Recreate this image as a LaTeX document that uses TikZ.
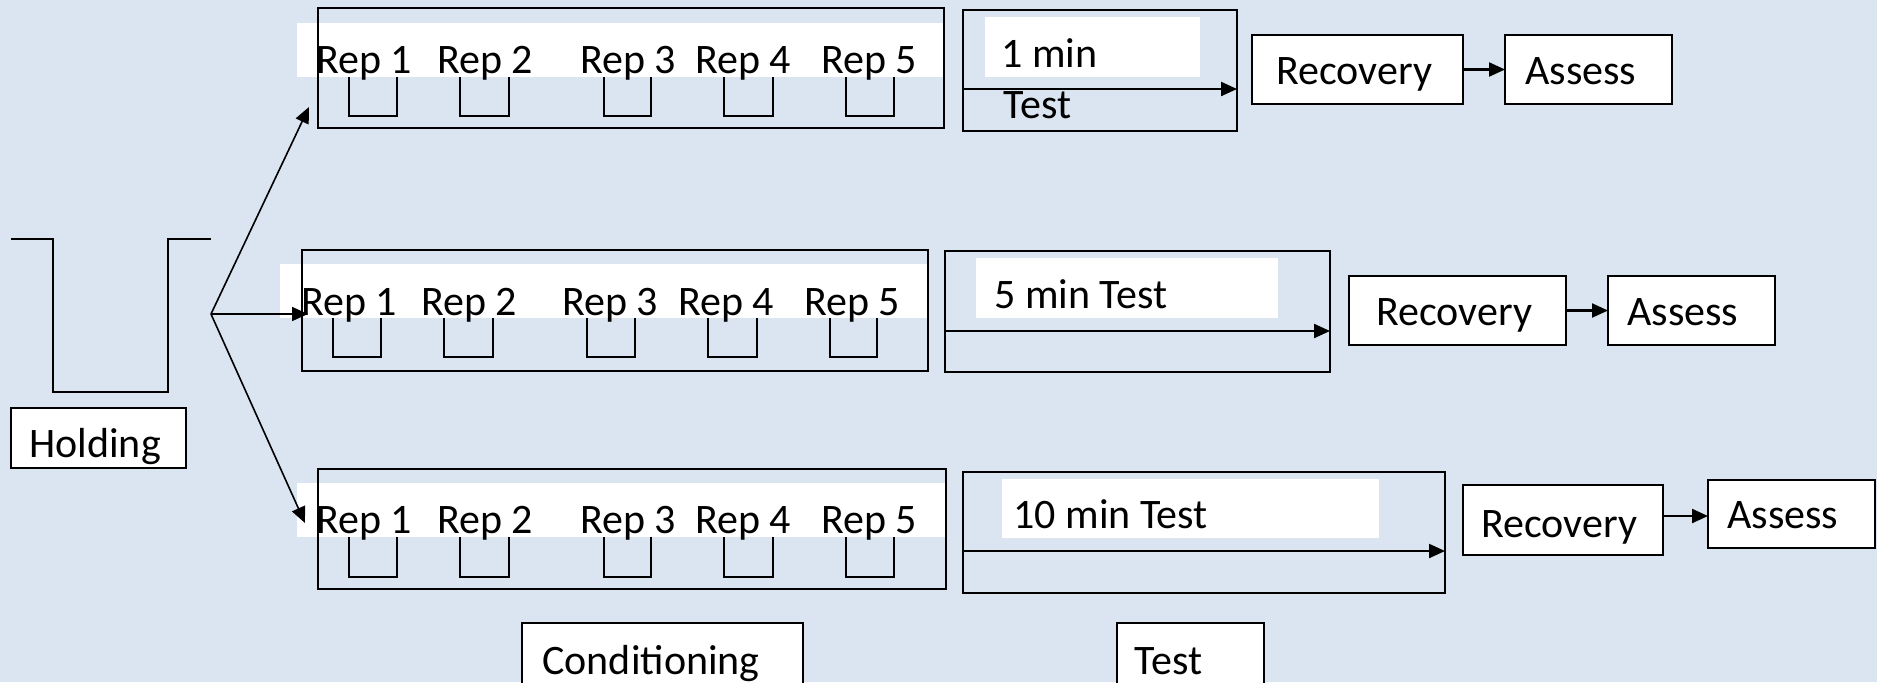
\documentclass[tikz,border=0pt]{standalone}
\usepackage{fontspec}
\setmainfont{Carlito}
\usetikzlibrary{arrows.meta}
\definecolor{bgblue}{RGB}{219,229,241}
\tikzset{
  sz/.style 2 args={anchor=north west,inner sep=0pt,outer sep=0pt,
    minimum width={#1*0.5pt},minimum height={#2*0.5pt}},
  frame/.style={draw=black,line width=1.1pt},
  whitebox/.style={frame,fill=white},
  band/.style={fill=white,draw=none},
  lbl/.style={anchor=base west,inner sep=0pt,font=\fontsize{21}{25}\selectfont},
  cupline/.style={line width=1.1pt},
  arr/.style={line width=1.1pt,-{Triangle[length=8pt,width=7pt]}},
  fan/.style={line width=0.8pt,-{Triangle[length=8pt,width=7pt]}},
}
\begin{document}
\begin{tikzpicture}[x=0.5pt,y=-0.5pt]
\fill[bgblue] (0,0) rectangle (1877,682);
\useasboundingbox (0,0) rectangle (1877,682);
\clip (0,0) rectangle (1877,682);

% holding vessel and its label
\draw[line width=1.2pt] (11,239) -- (53,239) -- (53,392) -- (168,392) -- (168,239) -- (211,239);
\node[whitebox,sz={175}{60}] (holdbox) at (11,408) {};
\node[lbl] (holdtxt) at (29,457) {Holding};

% conditioning rows: cups under the white band, then the frame and the labels
\foreach \a/\b in {349/397,460/509,604/651,724/773,846/894}{
  \draw[cupline] (\a,77) |- (\b,116) -- (\b,77);
  \draw[cupline] (\a,537) |- (\b,577) -- (\b,537);
}
\foreach \a/\b in {333/381,444/493,587/635,708/757,830/877}{
  \draw[cupline] (\a,318) |- (\b,357) -- (\b,318);
}
\node[band,sz={647}{54}] (band1) at (297,23) {};
\node[band,sz={648}{54}] (band2) at (280,264) {};
\node[band,sz={649}{54}] (band3) at (297,483) {};
\node[frame,sz={626}{120}] (cond1) at (318,8) {};
\node[frame,sz={626}{121}] (cond2) at (302,250) {};
\node[frame,sz={628}{120}] (cond3) at (318,469) {};
\foreach \x [count=\i] in {316,437,580,695,821}{
  \node[lbl] (repA\i) at (\x,73) {Rep \i};
  \node[lbl] (repC\i) at (\x,533) {Rep \i};
}
\foreach \x [count=\i] in {301,421,562,678,804}{
  \node[lbl] (repB\i) at (\x,315) {Rep \i};
}

% branching from the holding vessel
\coordinate (fork) at (211,314);
\coordinate (tip1) at (309,107);
\coordinate (tip2) at (308,314);
\coordinate (tip3) at (305,523);
\draw[fan] (fork) -- (tip1);
\draw[fan] (fork) -- (tip2);
\draw[fan] (fork) -- (tip3);

% test boxes
\node[band,sz={215}{60}] (tband1) at (985,17) {};
\node[band,sz={302}{60}] (tband2) at (976,258) {};
\node[band,sz={377}{59}] (tband3) at (1002,479) {};
\node[frame,sz={274}{121}] (test1) at (963,10) {};
\node[frame,sz={385}{121}] (test2) at (945,251) {};
\node[frame,sz={482}{121}] (test3) at (963,472) {};
\node[lbl] (t1a) at (1001,67) {1 min};
\node[lbl] (t1b) at (1003,118) {Test};
\node[lbl] (t2) at (994,308) {5 min Test};
\node[lbl] (t3) at (1013,528) {10 min Test};
\coordinate (ts1) at (963,89);  \coordinate (te1) at (1237,89);
\coordinate (ts2) at (945,331); \coordinate (te2) at (1330,331);
\coordinate (ts3) at (963,551); \coordinate (te3) at (1445,551);
\draw[arr] (ts1) -- (te1);
\draw[arr] (ts2) -- (te2);
\draw[arr] (ts3) -- (te3);

% recovery and assessment
\node[whitebox,sz={211}{69}] (rec1) at (1252,35) {};
\node[whitebox,sz={167}{69}] (as1) at (1505,35) {};
\node[whitebox,sz={217}{69}] (rec2) at (1349,276) {};
\node[whitebox,sz={167}{69}] (as2) at (1608,276) {};
\node[whitebox,sz={200}{70}] (rec3) at (1463,485) {};
\node[whitebox,sz={167}{68}] (as3) at (1708,480) {};
\node[lbl] (rt1) at (1276,84) {Recovery};
\node[lbl] (at1) at (1525,84) {Assess};
\node[lbl] (rt2) at (1376,325) {Recovery};
\node[lbl] (at2) at (1627,325) {Assess};
\node[lbl] (rt3) at (1481,537) {Recovery};
\node[lbl] (at3) at (1727,528) {Assess};
\coordinate (r3out) at ([yshift=2pt]rec3.east);
\draw[arr] (rec1.east) -- (as1.west |- rec1.east);
\draw[arr] (rec2.east) -- (as2.west |- rec2.east);
\draw[arr] (r3out) -- (as3.west |- r3out);

% phase captions along the bottom edge
\node[whitebox,sz={281}{77}] (condcap) at (522,623) {};
\node[lbl] (condtxt) at (542,674) {Conditioning};
\node[whitebox,sz={147}{77}] (testcap) at (1117,623) {};
\node[lbl] (testtxt) at (1134,674) {Test};
\end{tikzpicture}
\end{document}
